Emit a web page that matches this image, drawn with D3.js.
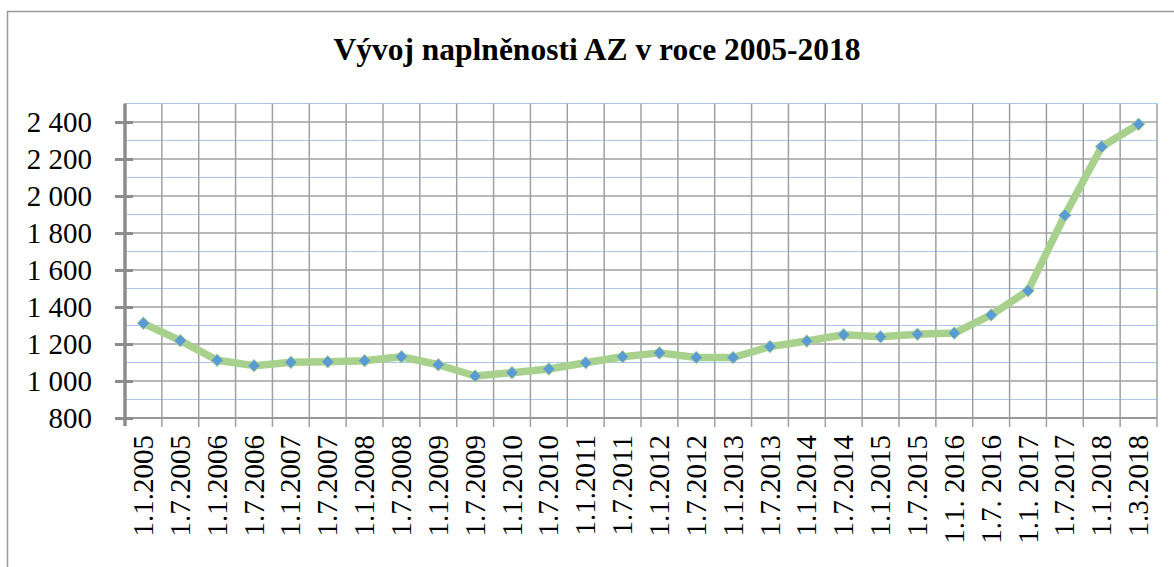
<!DOCTYPE html>
<html>
<head>
<meta charset="utf-8">
<script src="https://cdn.jsdelivr.net/npm/d3@7"></script>
<style>
  body { margin: 0; background: #fff; }
  svg text { font-family: "Times New Roman", "Liberation Serif", "DejaVu Serif", serif; fill: #000; }
</style>
</head>
<body>
<div id="chart"></div>
<script>
var dates = ["1.1.2005", "1.7.2005", "1.1.2006", "1.7.2006", "1.1.2007", "1.7.2007",
  "1.1.2008", "1.7.2008", "1.1.2009", "1.7.2009", "1.1.2010", "1.7.2010",
  "1.1.2011", "1.7.2011", "1.1.2012", "1.7.2012", "1.1.2013", "1.7.2013",
  "1.1.2014", "1.7.2014", "1.1.2015", "1.7.2015", "1.1. 2016", "1.7. 2016",
  "1.1. 2017", "1.7.2017", "1.1.2018", "1.3.2018"];
var counts = [1312, 1218, 1112, 1083, 1101, 1104, 1110, 1131, 1088, 1027, 1045, 1065,
  1099, 1131, 1152, 1127, 1127, 1186, 1216, 1250, 1239, 1253, 1259, 1357,
  1488, 1896, 2266, 2388];
var majorTicks = [800, 1000, 1200, 1400, 1600, 1800, 2000, 2200, 2400];
var minorTicks = [900, 1100, 1300, 1500, 1700, 1900, 2100, 2300, 2500];
var title = "Vývoj naplněnosti AZ v roce 2005-2018";

var W = 1174, H = 567;
var FONT = '"Times New Roman", "Liberation Serif", "DejaVu Serif", serif';
var margin = { top: 103.5, right: 17, bottom: 149, left: 125 };

var svg = d3.select("#chart").append("svg")
  .attr("width", W)
  .attr("height", H)
  .attr("font-family", FONT);

// chart frame
svg.append("rect")
  .attr("x", 7.5).attr("y", 11.5)
  .attr("width", W + 10).attr("height", H + 10)
  .style("fill", "none").style("stroke", "#9a9a9a").style("stroke-width", 1.5);

svg.append("text")
  .attr("x", 597).attr("y", 60)
  .attr("font-family", FONT)
  .style("text-anchor", "middle")
  .style("font-size", "31.5px").style("font-weight", "bold")
  .text(title);

var x = d3.scaleBand().domain(dates).range([margin.left, W - margin.right]).paddingInner(0).paddingOuter(0);
var y = d3.scaleLinear().domain([800, 2500]).range([H - margin.bottom, margin.top]);

var grid = svg.append("g").attr("class", "grid");

// minor horizontal grid (light blue)
grid.selectAll(".minor").data(minorTicks).enter().append("line")
  .attr("class", "minor")
  .attr("x1", x.range()[0]).attr("x2", x.range()[1])
  .attr("y1", function (d) { return y(d); }).attr("y2", function (d) { return y(d); })
  .style("stroke", "#a9c9ec").style("stroke-width", 1.2);

// major horizontal grid (gray)
grid.selectAll(".major").data(majorTicks.slice(1)).enter().append("line")
  .attr("class", "major")
  .attr("x1", x.range()[0]).attr("x2", x.range()[1])
  .attr("y1", function (d) { return y(d); }).attr("y2", function (d) { return y(d); })
  .style("stroke", "#a0a0a0").style("stroke-width", 1.5);

// vertical grid at category boundaries
var bounds = dates.map(function (d) { return x(d); }).concat([x.range()[1]]);
grid.selectAll(".vline").data(bounds.slice(1)).enter().append("line")
  .attr("class", "vline")
  .attr("x1", function (d) { return d; }).attr("x2", function (d) { return d; })
  .attr("y1", y(2500)).attr("y2", y(800) + 9)
  .style("stroke", "#a0a0a0").style("stroke-width", 1.5);

// x axis line
svg.append("line")
  .attr("x1", x.range()[0]).attr("x2", x.range()[1])
  .attr("y1", y(800)).attr("y2", y(800))
  .style("stroke", "#999").style("stroke-width", 2);

// x labels
var xAxis = svg.append("g")
  .attr("class", "axis axis--x")
  .attr("transform", "translate(0," + y(800) + ")")
  .call(d3.axisBottom(x).tickSize(0).tickPadding(0));
xAxis.attr("font-family", FONT).attr("font-size", 29);
xAxis.select(".domain").remove();
xAxis.selectAll("text")
  .attr("transform", "rotate(-90)")
  .attr("x", -17).attr("y", 0).attr("dy", "0.33em")
  .style("text-anchor", "end");

// y axis
var yAxis = svg.append("g")
  .attr("class", "axis axis--y")
  .attr("transform", "translate(" + margin.left + ",0)")
  .call(d3.axisLeft(y).tickValues(majorTicks).tickSize(10).tickPadding(23)
    .tickFormat(function (d) { return d3.format(",")(d).replace(",", "\u00a0"); }));
yAxis.attr("font-family", FONT).attr("font-size", 29);
yAxis.select(".domain")
  .attr("d", "M0," + y(2500) + "V" + (y(800) + 8))
  .style("stroke", "#8c8c8c").style("stroke-width", 3.5);
yAxis.selectAll(".tick line")
  .attr("x1", 8)
  .style("stroke", "#8c8c8c").style("stroke-width", 3);

// series line
var line = d3.line()
  .x(function (d, i) { return x(dates[i]) + x.bandwidth() / 2; })
  .y(function (d) { return y(d); });

svg.append("path")
  .datum(counts)
  .attr("d", line)
  .style("fill", "none")
  .style("stroke", "#a9d18e")
  .style("stroke-width", 7.5)
  .style("stroke-linejoin", "round");

svg.append("g").attr("class", "nodes")
  .selectAll("path").data(counts).enter().append("path")
  .attr("d", d3.symbol().type(d3.symbolDiamond2).size(100))
  .attr("transform", function (d, i) {
    return "translate(" + (x(dates[i]) + x.bandwidth() / 2) + "," + y(d) + ")";
  })
  .style("fill", "#5b9bd5")
  .style("stroke", "#a9d18e")
  .style("stroke-width", 1);
</script>
</body>
</html>
